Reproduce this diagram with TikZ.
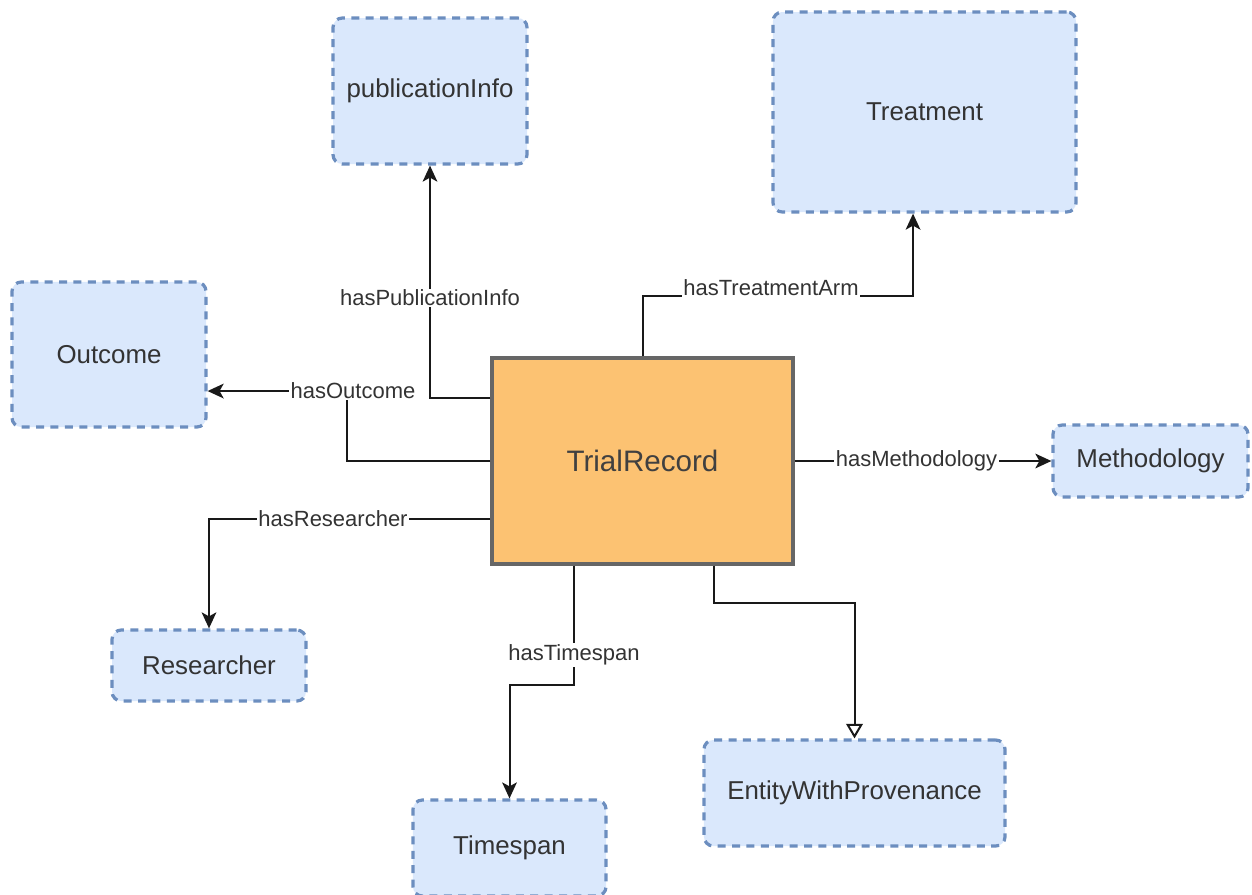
\documentclass[tikz,border=0pt]{standalone}
\usepackage{fontspec}
\setmainfont{Liberation Sans}
\usetikzlibrary{arrows.meta}
\definecolor{boxfill}{HTML}{DAE8FC}
\definecolor{boxline}{HTML}{6C8EBF}
\definecolor{mainfill}{HTML}{FCC272}
\definecolor{mainline}{HTML}{666666}
\definecolor{txt}{HTML}{333333}
\tikzset{
  classbox/.style={draw=boxline, fill=boxfill, line width=2.4pt,
    dash pattern=on 6pt off 4.8pt, rounded corners=7pt, text=txt,
    font=\fontsize{19.4}{23}\selectfont, inner sep=0pt},
  mainbox/.style={draw=mainline, fill=mainfill, line width=2.4pt, text=black!75,
    font=\fontsize{22.2}{26}\selectfont, inner sep=0pt},
  rel/.style={draw=black!90, line width=1.5pt, -{Stealth[length=12pt,width=11pt,inset=3pt]}},
  isa/.style={draw=black!90, line width=1.5pt, -{Triangle[open,length=11pt,width=12.5pt,fill=white]}},
  lbl/.style={fill=white, text=txt, font=\fontsize{16.5}{19}\selectfont, inner sep=1pt}
}
\begin{document}
\begin{tikzpicture}[x=0.75pt, y=-0.75pt]
\clip (0,0) rectangle (1252,894);
\fill[white] (0,0) rectangle (1252,894);

% classes
\node[classbox, minimum width=145.5pt, minimum height=109.5pt] (pub) at (430,91) {publicationInfo};
\node[classbox, minimum width=227.3pt, minimum height=150pt] (treat) at (924.5,112) {Treatment};
\node[classbox, minimum width=145.5pt, minimum height=108.8pt] (outcome) at (109,354.5) {Outcome};
\node[mainbox, minimum width=225.8pt, minimum height=154.5pt] (trial) at (642.5,461) {TrialRecord};
\node[classbox, minimum width=146.3pt, minimum height=54pt] (meth) at (1150.5,461) {Methodology};
\node[classbox, minimum width=145.5pt, minimum height=53.3pt] (res) at (209,665.5) {Researcher};
\node[classbox, minimum width=144.8pt, minimum height=72pt] (time) at (509.5,848) {Timespan};
\node[classbox, minimum width=225.8pt, minimum height=79.5pt] (ewp) at (854.5,793) {EntityWithProvenance};

% relations
\draw[rel] ([yshift=-31.5pt]trial.north west) -| (pub.south);
\draw[rel] (trial.north) -- ++(0,-60) -| ([xshift=-8.6pt]treat.south);
\draw[rel] (trial.west) -- ++(-143,0) |- ([yshift=-27.4pt]outcome.east);
\draw[rel] (trial.east) -- (meth.west);
\draw[rel] ([yshift=-43.5pt]trial.west) -| (res.north);
\draw[rel] ([xshift=-51.4pt]trial.south) -- ++(0,119) -| (time.north);
\draw[isa] ([xshift=53.6pt]trial.south) -- ++(0,37) -| (ewp.north);

% relation labels
\node[lbl] (lpub) at (430,298) {hasPublicationInfo};
\node[lbl] (ltreat) at (771,288) {hasTreatmentArm};
\node[lbl] (lout) at (353,391) {hasOutcome};
\node[lbl] (lmeth) at (916.5,461) {hasMethodology};
\node[lbl] (lres) at (333,519) {hasResearcher};
\node[lbl] (ltime) at (574,655) {hasTimespan};
\end{tikzpicture}
\end{document}
